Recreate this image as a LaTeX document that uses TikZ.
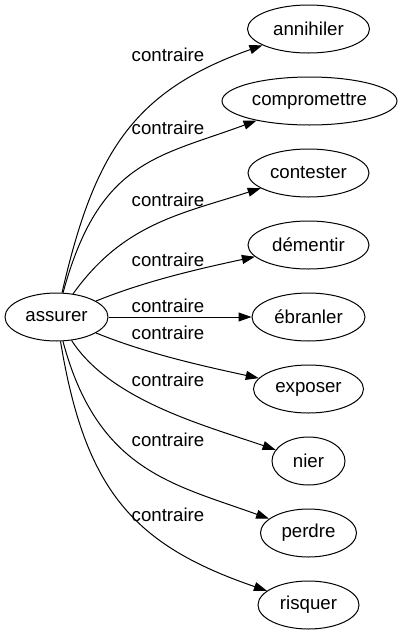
\documentclass[tikz,border=0pt]{standalone}
\usepackage{fontspec}
\setmainfont{Liberation Sans}
\usetikzlibrary{shapes.geometric,arrows.meta}
\begin{document}
\begin{tikzpicture}[x=1pt,y=-1pt,
  word/.style={draw,ellipse,line width=1pt,minimum height=48pt,inner sep=0pt,font=\fontsize{18.67}{20}\selectfont},
  lbl/.style={inner sep=0pt,font=\fontsize{18.67}{20}\selectfont},
  rel/.style={line width=1pt,-{Triangle[length=13pt,width=9pt]}}]
\useasboundingbox (0,0) rectangle (401,635);
\node[word,minimum width=103pt] (assurer) at (56.5,317) {assurer};
\node[word,minimum width=122pt] (annihiler) at (308.5,29) {annihiler};
\node[word,minimum width=175pt] (compromettre) at (309.5,101) {compromettre};
\node[word,minimum width=121pt] (contester) at (308.5,173) {contester};
\node[word,minimum width=121pt] (dementir) at (308.5,245) {démentir};
\node[word,minimum width=113pt] (ebranler) at (308.5,317) {ébranler};
\node[word,minimum width=110pt] (exposer) at (308.5,389) {exposer};
\node[word,minimum width=73pt] (nier) at (308.5,461) {nier};
\node[word,minimum width=96pt] (perdre) at (308.5,533) {perdre};
\node[word,minimum width=101pt] (risquer) at (308.5,605) {risquer};
\node[lbl] (l1) at (168,55) {contraire};
\node[lbl] (l2) at (168,128) {contraire};
\node[lbl] (l3) at (168,200) {contraire};
\node[lbl] (l4) at (168,260) {contraire};
\node[lbl] (l5) at (168,306) {contraire};
\node[lbl] (l6) at (168,333) {contraire};
\node[lbl] (l7) at (168,380) {contraire};
\node[lbl] (l8) at (168,440) {contraire};
\node[lbl] (l9) at (168,515) {contraire};
\draw[rel] (assurer) .. controls (94,153) and (133,91) .. (annihiler);
\draw[rel] (assurer) .. controls (99,160) and (158,157) .. (compromettre);
\draw[rel] (assurer) .. controls (123,224) and (180,214) .. (contester);
\draw[rel] (assurer) .. controls (148,280) and (203,268) .. (dementir);
\draw[rel] (assurer) -- (ebranler);
\draw[rel] (assurer) .. controls (148,354) and (203,366) .. (exposer);
\draw[rel] (assurer) .. controls (110,400) and (203,425) .. (nier);
\draw[rel] (assurer) .. controls (97.5,471) and (173,484) .. (perdre);
\draw[rel] (assurer) .. controls (85,490) and (133,545) .. (risquer);
\end{tikzpicture}
\end{document}
